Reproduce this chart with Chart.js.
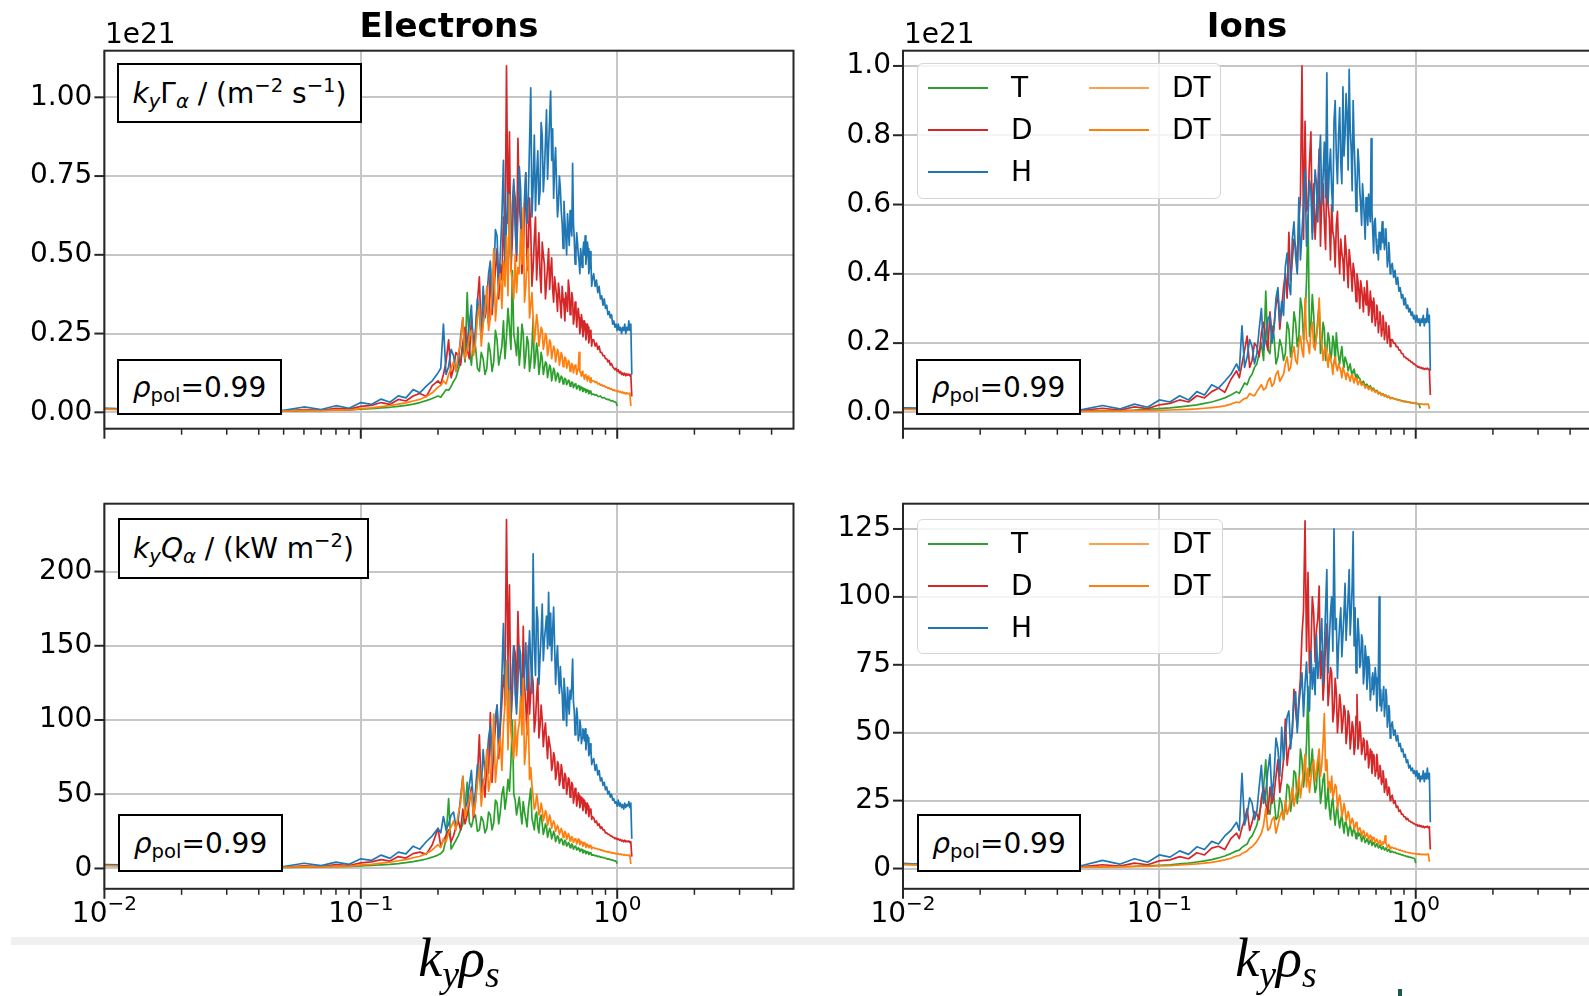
<!DOCTYPE html>
<html>
<head>
<meta charset="utf-8">
<script src="https://cdn.jsdelivr.net/npm/chart.js@4.4.1/dist/chart.umd.min.js"></script>
<style>
  html, body { margin: 0; padding: 0; width: 1589px; height: 996px; overflow: hidden; background: #fff; font-family: 'DejaVu Sans', sans-serif; color: #000; }
  canvas { position: absolute; }
  .txt { position: absolute; white-space: nowrap; }
  .title { font-weight: bold; font-size: 34px; line-height: 34px; transform: translateX(-50%); }
  .offset { font-size: 28px; line-height: 28px; }
  .box { position: absolute; box-sizing: border-box; border: 2px solid #000; background: #fff; display: flex; align-items: center; justify-content: center; font-size: 28px; white-space: nowrap; }
  .box sub { font-size: 0.7em; vertical-align: -0.28em; line-height: 0; }
  .box sup { font-size: 0.7em; vertical-align: 0.55em; line-height: 0; }
  .legend { position: absolute; box-sizing: border-box; border: 1.5px solid #d6d6d6; border-radius: 6px; background: rgba(255,255,255,0.8); font-size: 28px; }
  .legend .ln { position: absolute; height: 2.5px; }
  .legend .lb { position: absolute; line-height: 28px; }
  .xlabel { position: absolute; font-family: 'Liberation Serif', serif; font-style: italic; font-size: 54px; line-height: 54px; transform: translateX(-50%); white-space: nowrap; }
  .xlabel sub { font-size: 0.7em; vertical-align: -0.3em; line-height: 0; }
</style>
</head>
<body>
<canvas id="elecFlux" width="800" height="445" style="left:0;top:0"></canvas>
<canvas id="ionFlux" width="800" height="445" style="left:800px;top:0"></canvas>
<canvas id="elecHeat" width="800" height="490" style="left:0;top:460px"></canvas>
<canvas id="ionHeat" width="800" height="490" style="left:800px;top:460px"></canvas>

<div style="position:absolute;left:11px;right:0;top:937px;height:8px;background:#f0f0f0"></div>
<div style="position:absolute;left:1398px;top:989px;width:4px;height:7px;background:#1d5a4c"></div>

<div class="txt title" style="left:449px;top:8px">Electrons</div>
<div class="txt title" style="left:1247px;top:8px">Ions</div>
<div class="txt offset" style="left:105px;top:20px">1e21</div>
<div class="txt offset" style="left:904px;top:20px">1e21</div>

<div class="box" style="left:117px;top:63px;width:245px;height:60px"><span><i>k</i><sub><i>y</i></sub>Γ<sub><i>α</i></sub> / (m<sup>−2</sup> s<sup>−1</sup>)</span></div>
<div class="box" style="left:117px;top:359px;width:165px;height:56px"><span><i>ρ</i><sub>pol</sub>=0.99</span></div>
<div class="box" style="left:916px;top:359px;width:165px;height:56px"><span><i>ρ</i><sub>pol</sub>=0.99</span></div>
<div class="box" style="left:118px;top:518px;width:251px;height:61px"><span><i>k</i><sub><i>y</i></sub><i>Q</i><sub><i>α</i></sub> / (kW m<sup>−2</sup>)</span></div>
<div class="box" style="left:118px;top:814px;width:165px;height:58px"><span><i>ρ</i><sub>pol</sub>=0.99</span></div>
<div class="box" style="left:917px;top:814px;width:164px;height:58px"><span><i>ρ</i><sub>pol</sub>=0.99</span></div>

<div class="legend" id="legendFlux" style="left:917px;top:63px;width:304px;height:136px"></div>
<div class="legend" id="legendHeat" style="left:917px;top:519px;width:306px;height:135px"></div>

<div class="xlabel" style="left:459px;top:931px">k<sub>y</sub>ρ<sub>s</sub></div>
<div class="xlabel" style="left:1276px;top:931px">k<sub>y</sub>ρ<sub>s</sub></div>

<script>
// k_y rho_s grid (finer around the peak)
const K = [
  0.01,0.02,0.03,0.04,0.05,0.06,0.07,0.08,0.09,0.10,
  0.11,0.12,0.13,0.14,0.15,0.16,0.17,0.18,0.19,0.20,
  0.205,0.21,0.215,0.22,0.225,0.23,0.235,0.24,0.245,0.25,
  0.255,0.26,0.265,0.27,0.275,0.28,0.285,0.29,0.295,0.30,
  0.305,0.31,0.315,0.32,0.325,0.33,0.335,0.34,0.345,0.35,
  0.355,0.36,0.365,0.37,0.375,0.38,0.385,0.39,0.395,0.40,
  0.405,0.41,0.415,0.42,0.425,0.43,0.435,0.44,0.445,0.45,
  0.455,0.46,0.465,0.47,0.475,0.48,0.485,0.49,0.495,0.50,
  0.505,0.51,0.515,0.52,0.525,0.53,0.535,0.54,0.545,0.55,
  0.555,0.56,0.565,0.57,0.575,0.58,0.585,0.59,0.595,0.60,
  0.605,0.61,0.615,0.62,0.625,0.63,0.635,0.64,0.645,0.65,
  0.655,0.66,0.665,0.67,0.675,0.68,0.685,0.69,0.695,0.70,
  0.705,0.71,0.715,0.72,0.725,0.73,0.735,0.74,0.745,0.75,
  0.755,0.76,0.765,0.77,0.775,0.78,0.785,0.79,0.795,0.80,
  0.81,0.82,0.83,0.84,0.85,0.86,0.87,0.88,0.89,0.90,
  0.91,0.92,0.93,0.94,0.95,0.96,0.97,0.98,0.99,1.00,
  1.01,1.02,1.03,1.04,1.05,1.06,1.07,1.08,1.09,1.10,
  1.11,1.12,1.13,1.14
];

// Electrons, particle flux (1e21 m^-2 s^-1)
const elecFluxT = [
  0.010,0.006,0.004,0.003,0.004,0.005,0.006,0.007,0.008,0.010,
  0.012,0.014,0.016,0.019,0.022,0.026,0.031,0.037,0.044,0.052,
  0.048,0.060,0.072,0.070,0.082,0.098,0.11,0.135,0.16,0.22,
  0.16,0.38,0.20,0.15,0.24,0.21,0.14,0.13,0.19,0.17,
  0.12,0.14,0.22,0.19,0.13,0.16,0.26,0.23,0.15,0.18,
  0.21,0.29,0.17,0.24,0.33,0.27,0.20,0.45,0.25,0.22,
  0.18,0.27,0.15,0.20,0.28,0.25,0.14,0.18,0.24,0.22,
  0.13,0.16,0.21,0.30,0.14,0.17,0.22,0.19,0.12,0.15,
  0.19,0.17,0.12,0.14,0.16,0.155,0.11,0.13,0.15,0.14,
  0.10,0.12,0.14,0.13,0.10,0.11,0.125,0.12,0.095,0.105,
  0.115,0.11,0.09,0.10,0.108,0.105,0.088,0.093,0.102,0.10,
  0.083,0.088,0.096,0.094,0.078,0.084,0.09,0.088,0.074,0.079,
  0.085,0.083,0.07,0.074,0.08,0.078,0.066,0.069,0.075,0.073,
  0.063,0.066,0.071,0.069,0.059,0.061,0.067,0.065,0.056,0.058,
  0.058,0.054,0.056,0.051,0.050,0.052,0.047,0.046,0.047,0.043,
  0.042,0.040,0.041,0.037,0.036,0.037,0.034,0.033,0.031,0.020,
  null,null,null,null,null,null,null,null,null,null,
  null,null,null,null
];
const elecFluxD = [
  0.012,0.007,0.005,0.004,0.005,0.009,0.006,0.013,0.010,0.019,
  0.022,0.031,0.025,0.041,0.036,0.052,0.060,0.050,0.085,0.10,
  0.09,0.12,0.16,0.23,0.11,0.14,0.19,0.18,0.15,0.22,
  0.27,0.20,0.17,0.30,0.22,0.25,0.35,0.43,0.24,0.28,
  0.37,0.33,0.28,0.46,0.31,0.38,0.45,0.52,0.36,0.47,
  0.42,0.62,0.48,1.10,0.60,0.89,0.45,0.55,0.72,0.68,
  0.48,0.87,0.66,0.60,0.44,0.50,0.64,0.76,0.45,0.52,
  0.68,0.58,0.40,0.46,0.55,0.62,0.42,0.50,0.57,0.44,
  0.38,0.54,0.50,0.47,0.36,0.41,0.46,0.52,0.39,0.45,
  0.49,0.39,0.35,0.43,0.40,0.37,0.32,0.41,0.38,0.34,
  0.30,0.40,0.36,0.34,0.29,0.38,0.35,0.32,0.42,0.39,
  0.31,0.33,0.38,0.36,0.28,0.30,0.35,0.34,0.27,0.31,
  0.33,0.30,0.25,0.27,0.31,0.29,0.24,0.26,0.29,0.28,
  0.23,0.25,0.28,0.27,0.22,0.24,0.26,0.25,0.21,0.23,
  0.23,0.21,0.22,0.20,0.21,0.19,0.19,0.18,0.18,0.17,
  0.17,0.16,0.165,0.15,0.155,0.145,0.14,0.135,0.14,0.13,
  0.135,0.125,0.13,0.12,0.125,0.118,0.124,0.116,0.122,0.118,
  0.121,0.116,0.12,0.05
];
const elecFluxH = [
  0.013,0.008,0.006,0.008,0.006,0.017,0.009,0.021,0.013,0.031,
  0.025,0.042,0.032,0.052,0.046,0.072,0.062,0.083,0.10,0.125,
  0.14,0.28,0.12,0.145,0.20,0.18,0.13,0.155,0.24,0.30,
  0.17,0.22,0.28,0.34,0.19,0.26,0.36,0.31,0.24,0.40,
  0.30,0.36,0.44,0.48,0.33,0.42,0.58,0.56,0.40,0.50,
  0.62,0.80,0.45,0.60,0.70,0.52,0.48,0.66,0.74,0.58,
  0.50,0.63,0.78,0.71,0.52,0.56,0.68,0.76,0.60,0.68,
  0.85,1.03,0.62,0.72,0.88,0.64,0.75,0.83,0.66,0.70,
  0.92,0.88,0.70,0.76,0.86,0.96,0.74,0.84,0.93,1.02,
  0.80,0.90,0.68,0.78,0.84,0.72,0.62,0.66,0.75,0.71,
  0.64,0.60,0.52,0.67,0.61,0.56,0.50,0.63,0.58,0.53,
  0.64,0.59,0.56,0.79,0.60,0.55,0.47,0.50,0.57,0.54,
  0.50,0.48,0.44,0.52,0.49,0.46,0.51,0.54,0.50,0.56,
  0.47,0.50,0.54,0.52,0.44,0.46,0.51,0.48,0.40,0.42,
  0.44,0.40,0.42,0.38,0.40,0.36,0.37,0.34,0.36,0.33,
  0.34,0.31,0.32,0.30,0.31,0.28,0.29,0.27,0.28,0.26,
  0.28,0.26,0.27,0.25,0.27,0.26,0.28,0.25,0.27,0.26,
  0.29,0.26,0.28,0.12
];
const elecFluxDT = [
  0.010,0.005,0.004,0.003,0.004,0.006,0.005,0.008,0.007,0.012,
  0.014,0.018,0.021,0.026,0.030,0.036,0.041,0.050,0.062,0.080,
  0.085,0.10,0.09,0.12,0.14,0.16,0.13,0.185,0.22,0.30,
  0.17,0.20,0.24,0.26,0.18,0.22,0.30,0.34,0.21,0.28,
  0.32,0.40,0.26,0.30,0.38,0.52,0.29,0.36,0.41,0.44,
  0.33,0.48,0.40,0.56,0.37,0.69,0.45,0.42,0.36,0.50,
  0.38,0.46,0.44,0.58,0.47,0.65,0.35,0.40,0.48,0.52,
  0.30,0.34,0.38,0.30,0.22,0.26,0.31,0.28,0.21,0.24,
  0.27,0.26,0.20,0.22,0.25,0.24,0.18,0.20,0.23,0.22,
  0.17,0.19,0.21,0.20,0.16,0.18,0.20,0.19,0.15,0.17,
  0.19,0.18,0.145,0.16,0.175,0.17,0.14,0.15,0.165,0.16,
  0.13,0.14,0.155,0.15,0.125,0.14,0.15,0.145,0.12,0.13,
  0.14,0.19,0.13,0.125,0.115,0.13,0.12,0.115,0.105,0.12,
  0.115,0.11,0.10,0.115,0.11,0.105,0.095,0.11,0.10,0.10,
  0.10,0.095,0.097,0.090,0.092,0.086,0.088,0.083,0.085,0.080,
  0.080,0.076,0.078,0.073,0.075,0.070,0.072,0.068,0.070,0.066,
  0.068,0.064,0.066,0.062,0.065,0.060,0.063,0.058,0.062,0.060,
  0.058,0.061,0.02,null
];

// Ions, particle flux (1e21 m^-2 s^-1)
const ionFluxT = [
  0.010,0.006,0.004,0.003,0.004,0.005,0.006,0.007,0.009,0.011,
  0.013,0.016,0.019,0.022,0.026,0.030,0.036,0.042,0.050,0.060,
  0.055,0.07,0.085,0.08,0.10,0.11,0.13,0.14,0.17,0.20,
  0.15,0.35,0.18,0.17,0.25,0.22,0.14,0.16,0.21,0.19,
  0.15,0.17,0.26,0.24,0.16,0.20,0.29,0.26,0.19,0.22,
  0.33,0.30,0.21,0.27,0.38,0.57,0.22,0.25,0.34,0.28,
  0.19,0.22,0.27,0.31,0.17,0.20,0.26,0.24,0.15,0.18,
  0.23,0.21,0.15,0.17,0.22,0.20,0.14,0.23,0.19,0.16,
  0.14,0.17,0.19,0.15,0.13,0.16,0.15,0.14,0.12,0.13,
  0.14,0.12,0.105,0.12,0.125,0.11,0.095,0.11,0.105,0.10,
  0.098,0.09,0.08,0.087,0.09,0.083,0.074,0.08,0.082,0.077,
  0.07,0.074,0.077,0.07,0.064,0.067,0.07,0.065,0.06,0.062,
  0.064,0.06,0.054,0.057,0.058,0.055,0.05,0.053,0.054,0.051,
  0.048,0.049,0.05,0.047,0.044,0.046,0.047,0.044,0.041,0.043,
  0.042,0.040,0.039,0.038,0.037,0.036,0.035,0.034,0.033,0.032,
  0.032,0.031,0.030,0.030,0.029,0.028,0.028,0.027,0.027,0.026,
  0.026,0.025,0.025,0.012,null,null,null,null,null,null,
  null,null,null,null
];
const ionFluxD = [
  0.012,0.008,0.006,0.005,0.006,0.012,0.007,0.016,0.011,0.022,
  0.026,0.036,0.030,0.048,0.042,0.060,0.070,0.058,0.095,0.12,
  0.10,0.14,0.18,0.22,0.13,0.15,0.20,0.19,0.16,0.23,
  0.26,0.21,0.18,0.29,0.22,0.25,0.31,0.34,0.24,0.30,
  0.36,0.40,0.33,0.52,0.38,0.44,0.50,0.48,0.41,0.55,
  0.62,1.00,0.50,0.84,0.58,0.60,0.72,0.81,0.52,0.66,
  0.50,0.58,0.64,0.76,0.48,0.62,0.66,0.55,0.47,0.70,
  0.60,0.56,0.44,0.60,0.52,0.50,0.42,0.54,0.58,0.47,
  0.40,0.50,0.46,0.44,0.38,0.51,0.47,0.42,0.36,0.47,
  0.44,0.40,0.35,0.43,0.41,0.37,0.32,0.40,0.38,0.35,
  0.30,0.38,0.36,0.33,0.29,0.36,0.34,0.31,0.38,0.34,
  0.28,0.30,0.35,0.32,0.26,0.28,0.33,0.31,0.25,0.27,
  0.31,0.29,0.23,0.26,0.29,0.27,0.22,0.24,0.28,0.26,
  0.21,0.23,0.26,0.24,0.20,0.22,0.25,0.23,0.19,0.21,
  0.21,0.20,0.20,0.19,0.19,0.18,0.18,0.17,0.17,0.16,
  0.16,0.155,0.155,0.15,0.15,0.145,0.145,0.14,0.14,0.135,
  0.135,0.13,0.132,0.128,0.13,0.126,0.128,0.124,0.127,0.125,
  0.128,0.124,0.125,0.05
];
const ionFluxH = [
  0.013,0.009,0.007,0.009,0.008,0.020,0.010,0.024,0.015,0.036,
  0.030,0.048,0.036,0.060,0.050,0.080,0.070,0.090,0.11,0.14,
  0.12,0.25,0.13,0.16,0.21,0.19,0.14,0.17,0.24,0.30,
  0.18,0.22,0.27,0.28,0.20,0.24,0.33,0.36,0.26,0.32,
  0.28,0.42,0.46,0.37,0.34,0.50,0.55,0.45,0.40,0.62,
  0.44,0.52,0.60,0.70,0.48,0.56,0.67,0.64,0.50,0.58,
  0.70,0.66,0.55,0.72,0.80,0.60,0.68,0.78,0.62,0.98,
  0.60,0.70,0.76,0.64,0.58,0.84,0.90,0.74,0.66,0.80,
  0.88,0.72,0.66,0.94,0.74,0.80,0.92,0.86,0.70,0.99,
  0.82,0.76,0.64,0.90,0.78,0.70,0.58,0.64,0.76,0.72,
  0.64,0.60,0.54,0.66,0.62,0.56,0.50,0.62,0.58,0.54,
  0.63,0.58,0.55,0.79,0.58,0.52,0.46,0.55,0.56,0.50,
  0.46,0.48,0.44,0.52,0.50,0.47,0.51,0.55,0.49,0.53,
  0.47,0.50,0.53,0.48,0.42,0.44,0.49,0.46,0.40,0.42,
  0.43,0.39,0.41,0.37,0.39,0.35,0.36,0.33,0.34,0.31,
  0.33,0.30,0.31,0.29,0.30,0.28,0.29,0.27,0.28,0.26,
  0.28,0.26,0.27,0.25,0.27,0.26,0.28,0.25,0.27,0.26,
  0.30,0.26,0.28,0.12
];
const ionFluxDT = [
  0.009,0.005,0.003,0.003,0.003,0.004,0.004,0.005,0.005,0.006,
  0.007,0.008,0.009,0.010,0.012,0.014,0.016,0.019,0.024,0.030,
  0.028,0.035,0.04,0.042,0.055,0.05,0.048,0.06,0.07,0.08,
  0.065,0.07,0.09,0.10,0.075,0.085,0.11,0.12,0.09,0.10,
  0.11,0.14,0.16,0.12,0.13,0.17,0.19,0.15,0.14,0.20,
  0.22,0.18,0.16,0.33,0.21,0.20,0.17,0.24,0.26,0.19,
  0.18,0.22,0.25,0.33,0.23,0.20,0.15,0.18,0.19,0.16,
  0.13,0.17,0.15,0.14,0.11,0.15,0.16,0.13,0.12,0.14,
  0.13,0.12,0.10,0.13,0.12,0.11,0.095,0.115,0.11,0.10,
  0.09,0.105,0.11,0.095,0.085,0.10,0.098,0.09,0.08,0.088,
  0.092,0.085,0.078,0.082,0.084,0.078,0.07,0.075,0.077,0.072,
  0.066,0.07,0.073,0.067,0.062,0.065,0.067,0.062,0.058,0.06,
  0.061,0.058,0.053,0.056,0.057,0.054,0.049,0.052,0.053,0.05,
  0.046,0.048,0.049,0.047,0.043,0.045,0.046,0.044,0.04,0.042,
  0.041,0.040,0.039,0.037,0.036,0.035,0.034,0.033,0.032,0.031,
  0.031,0.030,0.030,0.029,0.028,0.028,0.027,0.027,0.026,0.026,
  0.025,0.025,0.024,0.025,0.024,0.024,0.023,0.024,0.023,0.024,
  0.023,0.024,0.01,null
];

// Electrons, heat flux (kW m^-2)
const elecHeatT = [
  2.0,1.2,0.8,0.6,0.7,0.9,1.0,1.2,1.4,1.7,
  2.0,2.4,2.8,3.3,3.9,4.6,5.4,6.4,7.6,9.0,
  10,12,20,47,13,16,19,22,26,30,
  40,58,31,28,34,36,25,26,35,32,
  24,27,38,36,26,31,46,44,30,38,
  50,55,40,48,60,52,72,100,50,46,
  36,42,48,38,30,45,38,33,28,40,
  47,54,34,30,26,36,38,28,24,34,
  36,30,23,26,30,28,21,24,27,25,
  20,22,25,23,18,20,22,21,17,19,
  20,19,16,17.5,19,18,15,16,17.5,16.5,
  14,15,16.5,15.5,13,14,15,14.5,12.5,13,
  14,13,11.5,12,13,12.5,10.5,11,12,11.5,
  10,10.5,11.3,10.8,9.5,9.8,10.6,10,9.0,9.2,
  9.0,8.5,8.7,8.0,8.2,7.6,7.7,7.2,7.3,6.8,
  6.6,6.3,6.4,5.9,5.8,5.6,5.3,5.1,4.8,3.2,
  null,null,null,null,null,null,null,null,null,null,
  null,null,null,null
];
const elecHeatD = [
  2.5,1.5,1.0,0.9,1.0,1.8,1.2,2.6,2.0,3.8,
  4.4,6.0,5.0,8.0,7.0,10,11,9.5,16,27,
  15,19,22,26,18,22,28,32,26,40,
  30,36,44,55,34,45,62,90,50,60,
  48,70,64,105,58,80,96,110,74,95,
  112,130,120,235,140,191,100,118,150,145,
  112,173,140,130,98,163,124,110,90,150,
  104,118,132,125,92,100,116,128,88,96,
  110,100,82,92,98,85,74,89,84,80,
  66,70,78,75,60,64,72,70,56,60,
  70,66,54,58,64,62,50,55,61,60,
  48,52,58,56,44,48,54,52,42,46,
  51,49,41,44,48,47,39,42,46,44,
  37,40,44,42,35,38,40,39,33,35,
  34,31,32,29,30,27,28,26,26,24,
  24,23,23,22,22,21,21,20,20.5,19.5,
  20,19,19.5,18.5,19,18,19,18,18.5,18,
  18.5,17.5,18,8
];
const elecHeatH = [
  2.6,1.7,1.3,1.7,1.3,3.5,1.9,4.3,2.8,6.5,
  5.4,9.0,6.8,11,9.8,15,13,18,22,27,
  24,35,26,30,36,38,28,33,48,62,
  40,45,56,66,42,52,70,62,54,80,
  64,72,88,96,70,84,102,110,86,100,
  130,165,110,122,140,106,96,134,150,118,
  104,126,150,144,100,114,136,152,120,138,
  160,140,118,212,150,130,176,168,124,142,
  158,178,140,154,162,170,148,186,150,172,
  140,160,176,150,124,140,150,130,118,136,
  124,118,100,128,120,110,96,122,112,104,
  120,114,124,141,112,106,90,96,108,102,
  86,90,100,96,84,88,94,92,86,94,
  80,86,90,88,76,78,84,80,70,72,
  74,66,70,63,66,59,61,56,58,53,
  55,50,52,48,50,46,47,44,45,42,
  46,42,44,41,43,40,44,41,43,42,
  45,41,44,20
];
const elecHeatDT = [
  2.0,1.0,0.8,0.6,0.8,1.2,1.0,1.6,1.4,2.4,
  2.8,3.6,4.2,5.2,6.0,7.2,8.2,10,12.5,16,
  14,20,18,24,28,32,26,37,44,62,
  34,40,46,52,36,44,58,68,42,56,
  64,80,52,60,76,104,58,72,82,88,
  66,96,110,140,80,120,92,84,74,100,
  76,92,98,116,90,128,70,80,96,104,
  60,68,56,48,40,42,50,45,36,38,
  44,40,32,35,39,37,29,32,36,33,
  27,30,32,30,25,27,29,27,23,25,
  27,25,21,23,25,24,19.5,21.5,23.5,22,
  18.5,20,21.5,20.5,17.5,19,20,19.5,16.5,18,
  20,19,16,17,18,17.5,15,16,17.5,16.5,
  14.2,15,16.2,15.5,14,14.5,15.5,15,13.2,14,
  14,13.4,13.6,12.8,13,12.3,12.5,11.8,12,11.4,
  11.4,11,11.2,10.6,10.8,10.3,10.5,10,10.2,9.8,
  10,9.5,9.7,9.2,9.5,9.0,9.3,8.8,9.1,8.8,
  8.6,9.0,3,null
];

// Ions, heat flux (kW m^-2)
const ionHeatT = [
  1.5,0.8,0.5,0.4,0.5,0.6,0.7,0.8,1.0,1.2,
  1.4,1.7,2.0,2.4,2.8,3.3,3.9,4.6,5.5,6.5,
  6.8,7.8,8.5,9,11,12,14,16,20,24,
  30,40,22,20,28,26,18,19,26,24,
  18,22,31,30,21,26,36,35,24,30,
  44,40,30,36,46,67,34,38,44,34,
  28,30,40,36,24,28,33,35,22,25,
  30,22,18,24,26,20,16,21,23,18,
  15,18,20,16,13,17,17,15,12,15,
  16,14,12,14,15,13,11,13,13.5,12,
  13,12,10,11,12,11.2,9.5,10.2,11,10.4,
  9,9.6,10.5,9.8,8.5,9,9.6,9.2,8,8.5,
  9.2,8.6,7.6,8,8.7,8.1,7.1,7.5,8.1,7.6,
  6.8,7.1,7.6,7.2,6.4,6.7,7.1,6.8,6,6.3,
  6.3,5.9,6.0,5.6,5.6,5.3,5.3,5.0,5.0,4.7,
  4.7,4.4,4.5,4.2,4.2,4.0,4.0,3.8,3.7,2.0,
  null,null,null,null,null,null,null,null,null,null,
  null,null,null,null
];
const ionHeatD = [
  1.8,1.0,0.7,0.6,0.7,1.4,0.9,2.0,1.4,2.8,
  3.2,4.4,3.6,5.8,5.0,7.5,8.2,7.0,11,13,
  11,15,18,22,14,17,21,20,18,26,
  30,24,20,30,24,27,34,40,28,33,
  40,55,38,44,46,50,66,58,52,62,
  70,86,95,128,80,109,72,80,100,94,
  76,88,92,104,70,80,62,70,84,90,
  60,66,74,72,54,58,70,65,50,56,
  64,60,50,54,60,58,46,50,58,56,
  44,48,54,52,42,45,56,64,44,47,
  54,50,42,44,48,47,40,42,47,45,
  37,40,44,43,35,38,42,41,34,36,
  42,39,33,34,38,36,31,32,36,34,
  28,30,33,31,27,28,30,29,25,26,
  27,24,25,22.5,23,21,21.5,20,20,19,
  19,18,18.5,17.5,17.5,17,17,16.5,16.5,16,
  16.2,15.6,16,15.4,15.8,15.2,15.6,15,15.4,15.2,
  15.6,15,15.4,7
];
const ionHeatH = [
  1.8,1.2,1.0,1.3,1.1,3.0,1.6,3.6,2.3,5.0,
  4.2,6.5,5.2,8.0,7.0,10,9,12,14,17,
  14,35,16,20,26,24,18,21,30,38,
  24,28,36,42,26,34,48,44,34,52,
  40,48,56,58,44,52,62,65,50,60,
  66,72,56,68,76,62,58,80,66,74,
  64,86,70,76,84,92,68,80,96,110,
  72,84,94,100,80,125,88,92,70,82,
  90,96,78,86,94,105,84,92,100,110,
  86,94,104,124,82,96,72,80,92,86,
  74,76,86,84,68,72,82,78,66,70,
  78,75,62,66,70,72,64,68,74,70,
  58,64,72,100,60,66,58,62,64,67,
  56,60,66,63,52,55,60,58,48,52,
  54,49,51,47,49,45,46,43,44,41,
  42,39,40,37,38,36,37,35,36,34,
  36,33,35,32,34,33,36,32,35,33,
  37,33,35,17
];
const ionHeatDT = [
  1.5,0.7,0.5,0.4,0.5,0.6,0.6,0.8,0.8,1.0,
  1.1,1.3,1.5,1.7,2.0,2.3,2.7,3.2,3.8,4.6,
  4.8,5.5,6,6.5,7.5,8,9,10,11.5,13,
  16,22,14,15,18,19,13,16,19,21,
  18,25,20,22,26,30,23,27,29,34,
  26,31,36,42,30,37,28,33,38,40,
  32,36,40,44,34,38,46,57,36,40,
  30,32,28,34,26,28,31,30,22,25,
  27,24,19,21,24,22,17.5,19,21,19.5,
  16,17,18.5,17.5,14.5,15.5,17,16,13.5,14.5,
  15,14,12,13,14,13.3,11.5,12.2,13,12.4,
  10.8,11.4,12.3,11.6,10,10.8,11.5,11,9.6,10.2,
  10.8,10.2,9,9.6,10.4,10,8.6,9,9.8,9.3,
  10,12,9.2,8.8,7.8,8.2,8.8,8.3,7.3,7.8,
  7.8,7.4,7.5,7.1,7.1,6.8,6.8,6.5,6.5,6.2,
  6.2,6.0,6.0,5.8,5.8,5.6,5.6,5.5,5.5,5.4,
  5.4,5.3,5.4,5.2,5.3,5.1,5.3,5.1,5.2,5.1,
  5.2,5.3,2.5,null
];

// tick labels
const kTicks = [0.01,0.02,0.03,0.04,0.05,0.06,0.07,0.08,0.09,0.1,0.2,0.3,0.4,0.5,0.6,0.7,0.8,0.9,1,2,3,4];
const elecFluxTicks = [0, 0.25, 0.5, 0.75, 1.0];
const ionFluxTicks = [0, 0.2, 0.4, 0.6, 0.8, 1.0];
const elecHeatTicks = [0, 50, 100, 150, 200];
const ionHeatTicks = [0, 25, 50, 75, 100, 125];

const legendLabels = ['T', 'D', 'H', 'DT', 'DT'];
const legendColors = ['#2ca02c', '#d62728', '#1f77b4', '#ffa04a', '#ff7f0e'];

const COLORS = { T: '#2ca02c', D: '#d62728', H: '#1f77b4', DT: '#ff7f0e' };
const GRID = '#c6c6c6';
const X_MAX = 4.87;

function isDecade(v) {
  const l = Math.log10(v);
  return Math.abs(l - Math.round(l)) < 1e-9;
}

// DT first so it ends up on top (Chart.js draws index 0 last)
function makeDatasets(t, d, h, dt) {
  return [['DT', dt], ['H', h], ['D', d], ['T', t]].map(([name, vals]) => ({
    label: name,
    data: K.map((k, i) => ({ x: k, y: vals[i] })),
    borderColor: COLORS[name],
    borderWidth: 1.7,
    borderJoinStyle: 'round',
    pointRadius: 0,
    fill: false,
    spanGaps: false
  }));
}

// box around the axes, outward tick marks and 10^n labels, like matplotlib
const framePlugin = {
  id: 'frame',
  afterDraw(chart, args, opts) {
    const { ctx, chartArea: a, scales } = chart;
    ctx.save();
    ctx.strokeStyle = '#262626';
    scales.x.ticks.forEach(t => {
      const px = scales.x.getPixelForValue(t.value);
      const major = isDecade(t.value);
      ctx.lineWidth = major ? 2 : 1.5;
      ctx.beginPath();
      ctx.moveTo(px, a.bottom);
      ctx.lineTo(px, a.bottom + (major ? 10 : 6));
      ctx.stroke();
      if (opts.xLabels && major) {
        const exp = String(Math.round(Math.log10(t.value))).replace('-', '−');
        ctx.fillStyle = '#000';
        ctx.textBaseline = 'alphabetic';
        ctx.textAlign = 'left';
        ctx.font = '28px "DejaVu Sans"';
        const wBase = ctx.measureText('10').width;
        ctx.font = '20px "DejaVu Sans"';
        const wExp = ctx.measureText(exp).width;
        const x0 = px - (wBase + wExp) / 2;
        const yb = a.bottom + 33;
        ctx.font = '28px "DejaVu Sans"';
        ctx.fillText('10', x0, yb);
        ctx.font = '20px "DejaVu Sans"';
        ctx.fillText(exp, x0 + wBase, yb - 12);
      }
    });
    ctx.lineWidth = 2;
    scales.y.ticks.forEach(t => {
      const py = scales.y.getPixelForValue(t.value);
      ctx.beginPath();
      ctx.moveTo(a.left, py);
      ctx.lineTo(a.left - 10, py);
      ctx.stroke();
    });
    ctx.strokeRect(a.left, a.top, a.right - a.left, a.bottom - a.top);
    ctx.restore();
  }
};

function drawPanel(id, datasets, yOpt, box) {
  new Chart(document.getElementById(id), {
    type: 'line',
    data: { datasets: datasets },
    options: {
      responsive: false,
      animation: false,
      events: [],
      layout: { padding: { top: box.top, right: box.right, left: 0, bottom: 0 } },
      plugins: {
        legend: { display: false },
        tooltip: { enabled: false },
        frame: { xLabels: box.xLabels }
      },
      scales: {
        x: {
          type: 'logarithmic',
          min: 0.01,
          max: X_MAX,
          bounds: 'data',
          afterBuildTicks: s => { s.ticks = kTicks.map(v => ({ value: v })); },
          afterFit: s => { s.height = box.xHeight; s.paddingLeft = 0; s.paddingRight = 0; },
          border: { display: false },
          grid: {
            drawTicks: false,
            lineWidth: 2,
            color: c => (c.tick && isDecade(c.tick.value)) ? GRID : 'rgba(0,0,0,0)'
          },
          ticks: { display: false, autoSkip: false }
        },
        y: {
          type: 'linear',
          min: yOpt.min,
          max: yOpt.max,
          bounds: 'data',
          afterBuildTicks: s => { s.ticks = yOpt.ticks.map(v => ({ value: v })); },
          afterFit: s => { s.width = box.yWidth; s.paddingTop = 0; s.paddingBottom = 0; },
          border: { display: false },
          grid: { drawTicks: false, lineWidth: 2, color: GRID },
          ticks: {
            autoSkip: false,
            padding: 12,
            color: '#000',
            font: { family: 'DejaVu Sans', size: 28 },
            callback: v => v.toFixed(yOpt.digits)
          }
        }
      }
    },
    plugins: [framePlugin]
  });
}

function buildLegend(id) {
  const el = document.getElementById(id);
  const rows = [24, 66, 108];
  legendLabels.forEach((lab, i) => {
    const col = i < 3 ? 0 : 1;
    const row = i < 3 ? i : i - 3;
    const ln = document.createElement('div');
    ln.className = 'ln';
    ln.style.left = (col ? 171 : 10) + 'px';
    ln.style.width = '60px';
    ln.style.top = (rows[row] - 1.5) + 'px';
    ln.style.background = legendColors[i];
    el.appendChild(ln);
    const lb = document.createElement('div');
    lb.className = 'lb';
    lb.textContent = lab;
    lb.style.left = (col ? 254 : 93) + 'px';
    lb.style.top = (rows[row] - 14) + 'px';
    el.appendChild(lb);
  });
}

drawPanel('elecFlux', makeDatasets(elecFluxT, elecFluxD, elecFluxH, elecFluxDT),
  { min: -0.052, max: 1.148, ticks: elecFluxTicks, digits: 2 },
  { top: 50.7, right: 6.5, yWidth: 104.4, xHeight: 16.3, xLabels: false });
drawPanel('ionFlux', makeDatasets(ionFluxT, ionFluxD, ionFluxH, ionFluxDT),
  { min: -0.047, max: 1.044, ticks: ionFluxTicks, digits: 1 },
  { top: 50.7, right: 8, yWidth: 103, xHeight: 16.3, xLabels: false });
drawPanel('elecHeat', makeDatasets(elecHeatT, elecHeatD, elecHeatH, elecHeatDT),
  { min: -13.7, max: 245.7, ticks: elecHeatTicks, digits: 0 },
  { top: 43.7, right: 6.5, yWidth: 104.4, xHeight: 61.2, xLabels: true });
drawPanel('ionHeat', makeDatasets(ionHeatT, ionHeatD, ionHeatH, ionHeatDT),
  { min: -7.46, max: 134.3, ticks: ionHeatTicks, digits: 0 },
  { top: 43.7, right: 8, yWidth: 103, xHeight: 61.2, xLabels: true });

buildLegend('legendFlux');
buildLegend('legendHeat');
</script>
</body>
</html>
